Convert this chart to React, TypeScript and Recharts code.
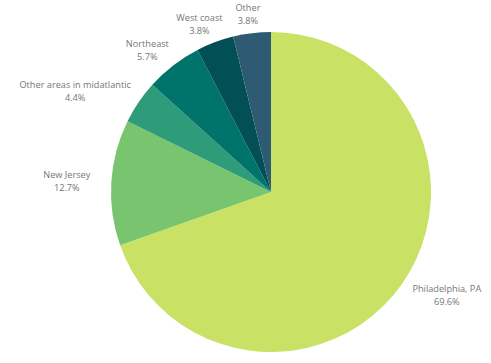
import { PieChart, Pie, Cell } from 'recharts';

const regions = ["Philadelphia, PA", "New Jersey", "Other areas in midatlantic", "Northeast", "West coast", "Other"];
const shares = [69.6, 12.7, 4.4, 5.7, 3.8, 3.8];
const COLORS = ["#c9e164", "#79c56f", "#2e9c78", "#00736b", "#024f56", "#2f5a73"];

const data = regions.map((name, i) => ({ name, value: shares[i] }));

const FONT_SIZE = 9.2;
const RADIAN = Math.PI / 180;

function textWidth(s: string) {
    const ctx = document.createElement("canvas").getContext("2d");
    if (!ctx) return s.length * 5;
    ctx.font = `${FONT_SIZE}px 'Open Sans'`;
    return ctx.measureText(s).width;
}

// label centre sits on an ellipse outside the rim: wider sideways by half the text width
const renderLabel = (props: any) => {
    const { cx, cy, midAngle, outerRadius, index } = props;
    const name = regions[index];
    const pct = `${shares[index].toFixed(1)}%`;
    const w = Math.max(textWidth(name), textWidth(pct));
    const cos = Math.cos(-midAngle * RADIAN);
    const sin = Math.sin(-midAngle * RADIAN);
    const x = cx + (outerRadius + 6 + w / 2 + 15) * cos;
    const y = cy + (outerRadius + 6 + 13) * sin;
    return (
        <text x={x} y={y} textAnchor="middle" fill="#767676" fontSize={FONT_SIZE} fontFamily="'Open Sans'">
            <tspan x={x} dy={-3}>{name}</tspan>
            <tspan x={x} dy={13}>{pct}</tspan>
        </text>
    );
};

export default function App() {
    return (
        <div style={{ position: "absolute", left: 0, top: 0, width: 491, height: 363, background: "#fff" }}>
            <PieChart width={491} height={363} margin={{ top: 0, right: 0, bottom: 0, left: 0 }}>
                <Pie
                    data={data}
                    dataKey="value"
                    cx={271}
                    cy={192}
                    outerRadius={160}
                    startAngle={90}
                    endAngle={-270}
                    stroke="none"
                    label={renderLabel}
                    labelLine={false}
                    isAnimationActive={false}
                >
                    {data.map((entry, index) => (
                        <Cell key={`cell-${index}`} fill={COLORS[index]} />
                    ))}
                </Pie>
            </PieChart>
        </div>
    );
}
